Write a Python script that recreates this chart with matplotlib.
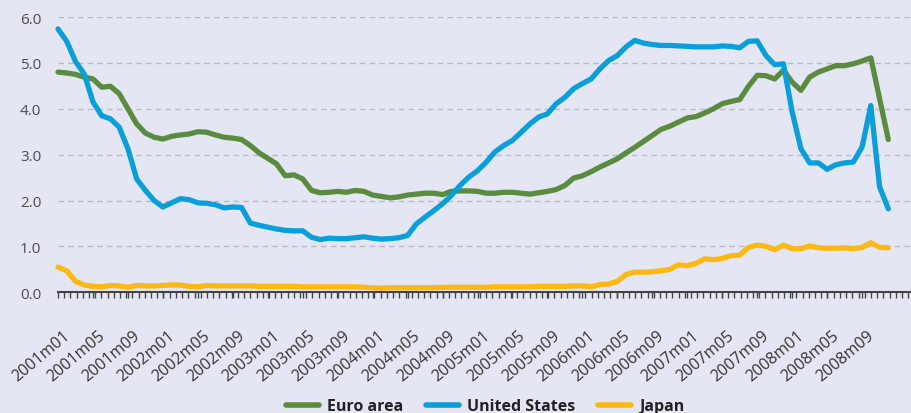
import matplotlib.pyplot as plt
from matplotlib.ticker import MultipleLocator, FixedLocator
from matplotlib.transforms import ScaledTranslation

# monthly short-term interest rates, 2001m01 .. 2008m12
months = [f"{y}m{m:02d}" for y in range(2001, 2009) for m in range(1, 13)]

euro_area = [
    4.80, 4.78, 4.75, 4.69, 4.65, 4.47, 4.49, 4.33, 4.00, 3.67, 3.47, 3.38,
    3.34, 3.40, 3.43, 3.45, 3.50, 3.49, 3.43, 3.38, 3.36, 3.33, 3.20, 3.04,
    2.92, 2.80, 2.54, 2.56, 2.47, 2.22, 2.17, 2.18, 2.20, 2.18, 2.22, 2.20,
    2.12, 2.09, 2.06, 2.08, 2.12, 2.14, 2.16, 2.16, 2.13, 2.20, 2.21, 2.21,
    2.20, 2.16, 2.16, 2.18, 2.18, 2.16, 2.14, 2.17, 2.20, 2.24, 2.33, 2.49,
    2.54, 2.63, 2.73, 2.82, 2.91, 3.04, 3.16, 3.29, 3.42, 3.55, 3.62, 3.71,
    3.80, 3.83, 3.91, 4.00, 4.11, 4.16, 4.20, 4.49, 4.73, 4.72, 4.65, 4.84,
    4.58, 4.40, 4.69, 4.80, 4.87, 4.94, 4.94, 4.98, 5.04, 5.11, 4.22, 3.33,
]
united_states = [
    5.74, 5.47, 5.03, 4.76, 4.15, 3.85, 3.78, 3.60, 3.13, 2.47, 2.22, 2.00,
    1.86, 1.95, 2.04, 2.02, 1.95, 1.94, 1.91, 1.84, 1.86, 1.85, 1.51, 1.46,
    1.42, 1.38, 1.35, 1.34, 1.34, 1.20, 1.15, 1.18, 1.17, 1.17, 1.19, 1.21,
    1.18, 1.16, 1.17, 1.19, 1.24, 1.49, 1.64, 1.78, 1.93, 2.11, 2.33, 2.51,
    2.65, 2.84, 3.06, 3.20, 3.31, 3.49, 3.67, 3.82, 3.89, 4.11, 4.25, 4.44,
    4.55, 4.65, 4.87, 5.05, 5.16, 5.35, 5.49, 5.43, 5.40, 5.38, 5.38, 5.37,
    5.36, 5.35, 5.35, 5.35, 5.37, 5.36, 5.33, 5.47, 5.48, 5.16, 4.96, 4.98,
    3.93, 3.13, 2.82, 2.82, 2.68, 2.78, 2.82, 2.84, 3.17, 4.07, 2.30, 1.82,
]
japan = [
    0.55, 0.47, 0.24, 0.16, 0.13, 0.12, 0.15, 0.14, 0.11, 0.15, 0.14, 0.14,
    0.15, 0.16, 0.16, 0.13, 0.12, 0.15, 0.14, 0.14, 0.14, 0.14, 0.14, 0.13,
    0.13, 0.13, 0.13, 0.13, 0.12, 0.12, 0.12, 0.12, 0.12, 0.12, 0.12, 0.11,
    0.10, 0.09, 0.10, 0.10, 0.10, 0.10, 0.10, 0.10, 0.11, 0.11, 0.11, 0.11,
    0.11, 0.11, 0.12, 0.12, 0.12, 0.12, 0.12, 0.13, 0.13, 0.13, 0.13, 0.14,
    0.14, 0.12, 0.17, 0.18, 0.24, 0.39, 0.44, 0.44, 0.45, 0.47, 0.50, 0.60,
    0.58, 0.63, 0.73, 0.71, 0.74, 0.80, 0.81, 0.98, 1.03, 1.00, 0.93, 1.03,
    0.95, 0.95, 1.01, 0.97, 0.96, 0.96, 0.97, 0.95, 0.98, 1.08, 0.98, 0.97,
]

series = [
    ("Euro area", euro_area, "#5a8b3f"),
    ("United States", united_states, "#0a9fdb"),
    ("Japan", japan, "#fdb813"),
]

bg = "#e4e7f3"
plt.rcParams["font.family"] = ["Open Sans", "DejaVu Sans"]

fig = plt.figure(figsize=(9.12, 4.14), dpi=100, facecolor=bg)
ax = fig.add_axes([0.0636, 0.2915, 0.9344, 0.665], facecolor=bg)

x = list(range(len(months)))
for name, vals, col in series:
    ax.plot(x, vals, color=col, lw=3.8, label=name, solid_joinstyle="round",
            solid_capstyle="round", clip_on=False, zorder=3)

ax.set_xlim(0, 97.5)
ax.set_ylim(0, 6)
ax.set_yticks([0, 1, 2, 3, 4, 5, 6])
ax.set_yticklabels([f"{v:.1f}" for v in range(7)])
ax.yaxis.grid(True, color="#b9bbc4", lw=1.0, linestyle=(0, (4, 3)))
ax.set_axisbelow(True)

# tick labels every 4 months, small ticks along the axis
ax.xaxis.set_major_locator(FixedLocator(x[::4]))
ax.set_xticklabels(months[::4], rotation=40, ha="right", va="top",
                   rotation_mode="anchor")
ax.xaxis.set_minor_locator(MultipleLocator(0.71))
ax.tick_params(axis="x", which="both", direction="out", length=4, width=1,
               color="#444444", labelsize=11.5, labelcolor="#333333", pad=21)
ax.tick_params(axis="y", length=0, pad=12, labelsize=11, labelcolor="#4d4d4d")
shift = ScaledTranslation(0.05, 0, fig.dpi_scale_trans)
for lab in ax.get_xticklabels():
    lab.set_transform(lab.get_transform() + shift)

for s in ["left", "right", "top"]:
    ax.spines[s].set_visible(False)
ax.spines["bottom"].set_color("#444444")
ax.spines["bottom"].set_linewidth(1.5)

leg = fig.legend(loc="center", bbox_to_anchor=(0.532, 0.016), ncol=3,
                 frameon=False, handlelength=2.1, columnspacing=1.4,
                 handletextpad=0.5, prop={"weight": "bold", "size": 11.5})
for line in leg.get_lines():
    line.set_linewidth(4)
    line.set_solid_capstyle("round")
for t in leg.get_texts():
    t.set_color("#222222")

fig.savefig("out.png", dpi=100, facecolor=bg)
